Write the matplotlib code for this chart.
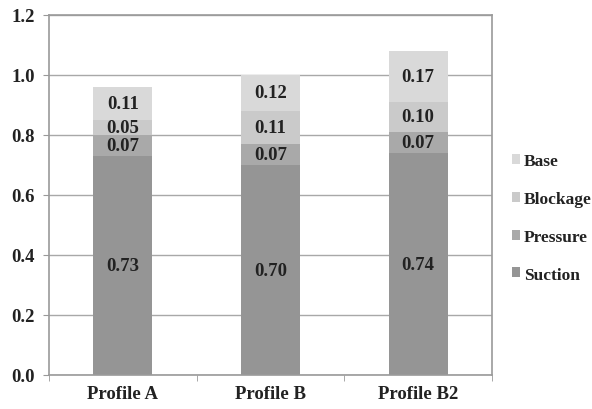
import numpy as np
import matplotlib
matplotlib.use("Agg")
import matplotlib.pyplot as plt

plt.rcParams["font.family"] = ["Liberation Serif", "DejaVu Serif"]
plt.rcParams["font.weight"] = "bold"

profiles = ["Profile A", "Profile B", "Profile B2"]
suction = [0.73, 0.70, 0.74]
pressure = [0.07, 0.07, 0.07]
blockage = [0.05, 0.11, 0.10]
base = [0.11, 0.12, 0.17]

series = [("Suction", suction, "#959595"),
          ("Pressure", pressure, "#a9a9a9"),
          ("Blockage", blockage, "#cacaca"),
          ("Base", base, "#d9d9d9")]

fs = 13.5
fig = plt.figure(figsize=(5.92, 4.10), dpi=100)
ax = fig.add_axes([49 / 592, 34 / 410, 443 / 592, 360 / 410])

x = np.arange(len(profiles))
bottom = np.zeros(len(profiles))
handles = []
for name, vals, col in series:
    vals = np.array(vals)
    b = ax.bar(x, vals, width=0.4, bottom=bottom, color=col, zorder=2, label=name)
    handles.append(b)
    for xi, v, bt in zip(x, vals, bottom):
        ax.text(xi, bt + v / 2, f"{v:.2f}", ha="center", va="center",
                fontsize=fs, fontweight="bold", color="#222222", zorder=3)
    bottom += vals

ax.set_xlim(-0.5, 2.5)
ax.set_ylim(0, 1.2)
ax.set_yticks(np.arange(0, 1.21, 0.2))
ax.set_yticklabels([f"{v:.1f}" for v in np.arange(0, 1.21, 0.2)])
ax.yaxis.grid(True, color="#a8a8a8", linewidth=1.0, zorder=0)
ax.set_axisbelow(True)

ax.set_xticks(x)
ax.set_xticklabels(profiles)
ax.set_xticks([-0.5, 0.5, 1.5, 2.5], minor=True)
ax.tick_params(axis="x", which="major", length=0, pad=7, labelsize=fs)
ax.tick_params(axis="x", which="minor", length=4, color="#999999")
ax.tick_params(axis="y", length=4, color="#999999", labelsize=fs, pad=6)
for lbl in ax.get_xticklabels() + ax.get_yticklabels():
    lbl.set_fontweight("bold")
    lbl.set_color("#222222")

for s in ax.spines.values():
    s.set_color("#9a9a9a")
    s.set_linewidth(1.2)

leg = fig.legend(handles[::-1], [h.get_label() for h in handles[::-1]],
                 loc="center left", bbox_to_anchor=(496 / 592, 1 - 219 / 410),
                 frameon=False, handlelength=0.5, handleheight=0.5,
                 handletextpad=0.2, labelspacing=1.25,
                 prop={"weight": "bold", "size": 12.5})
for t in leg.get_texts():
    t.set_color("#222222")

fig.savefig("out.png", dpi=100)
